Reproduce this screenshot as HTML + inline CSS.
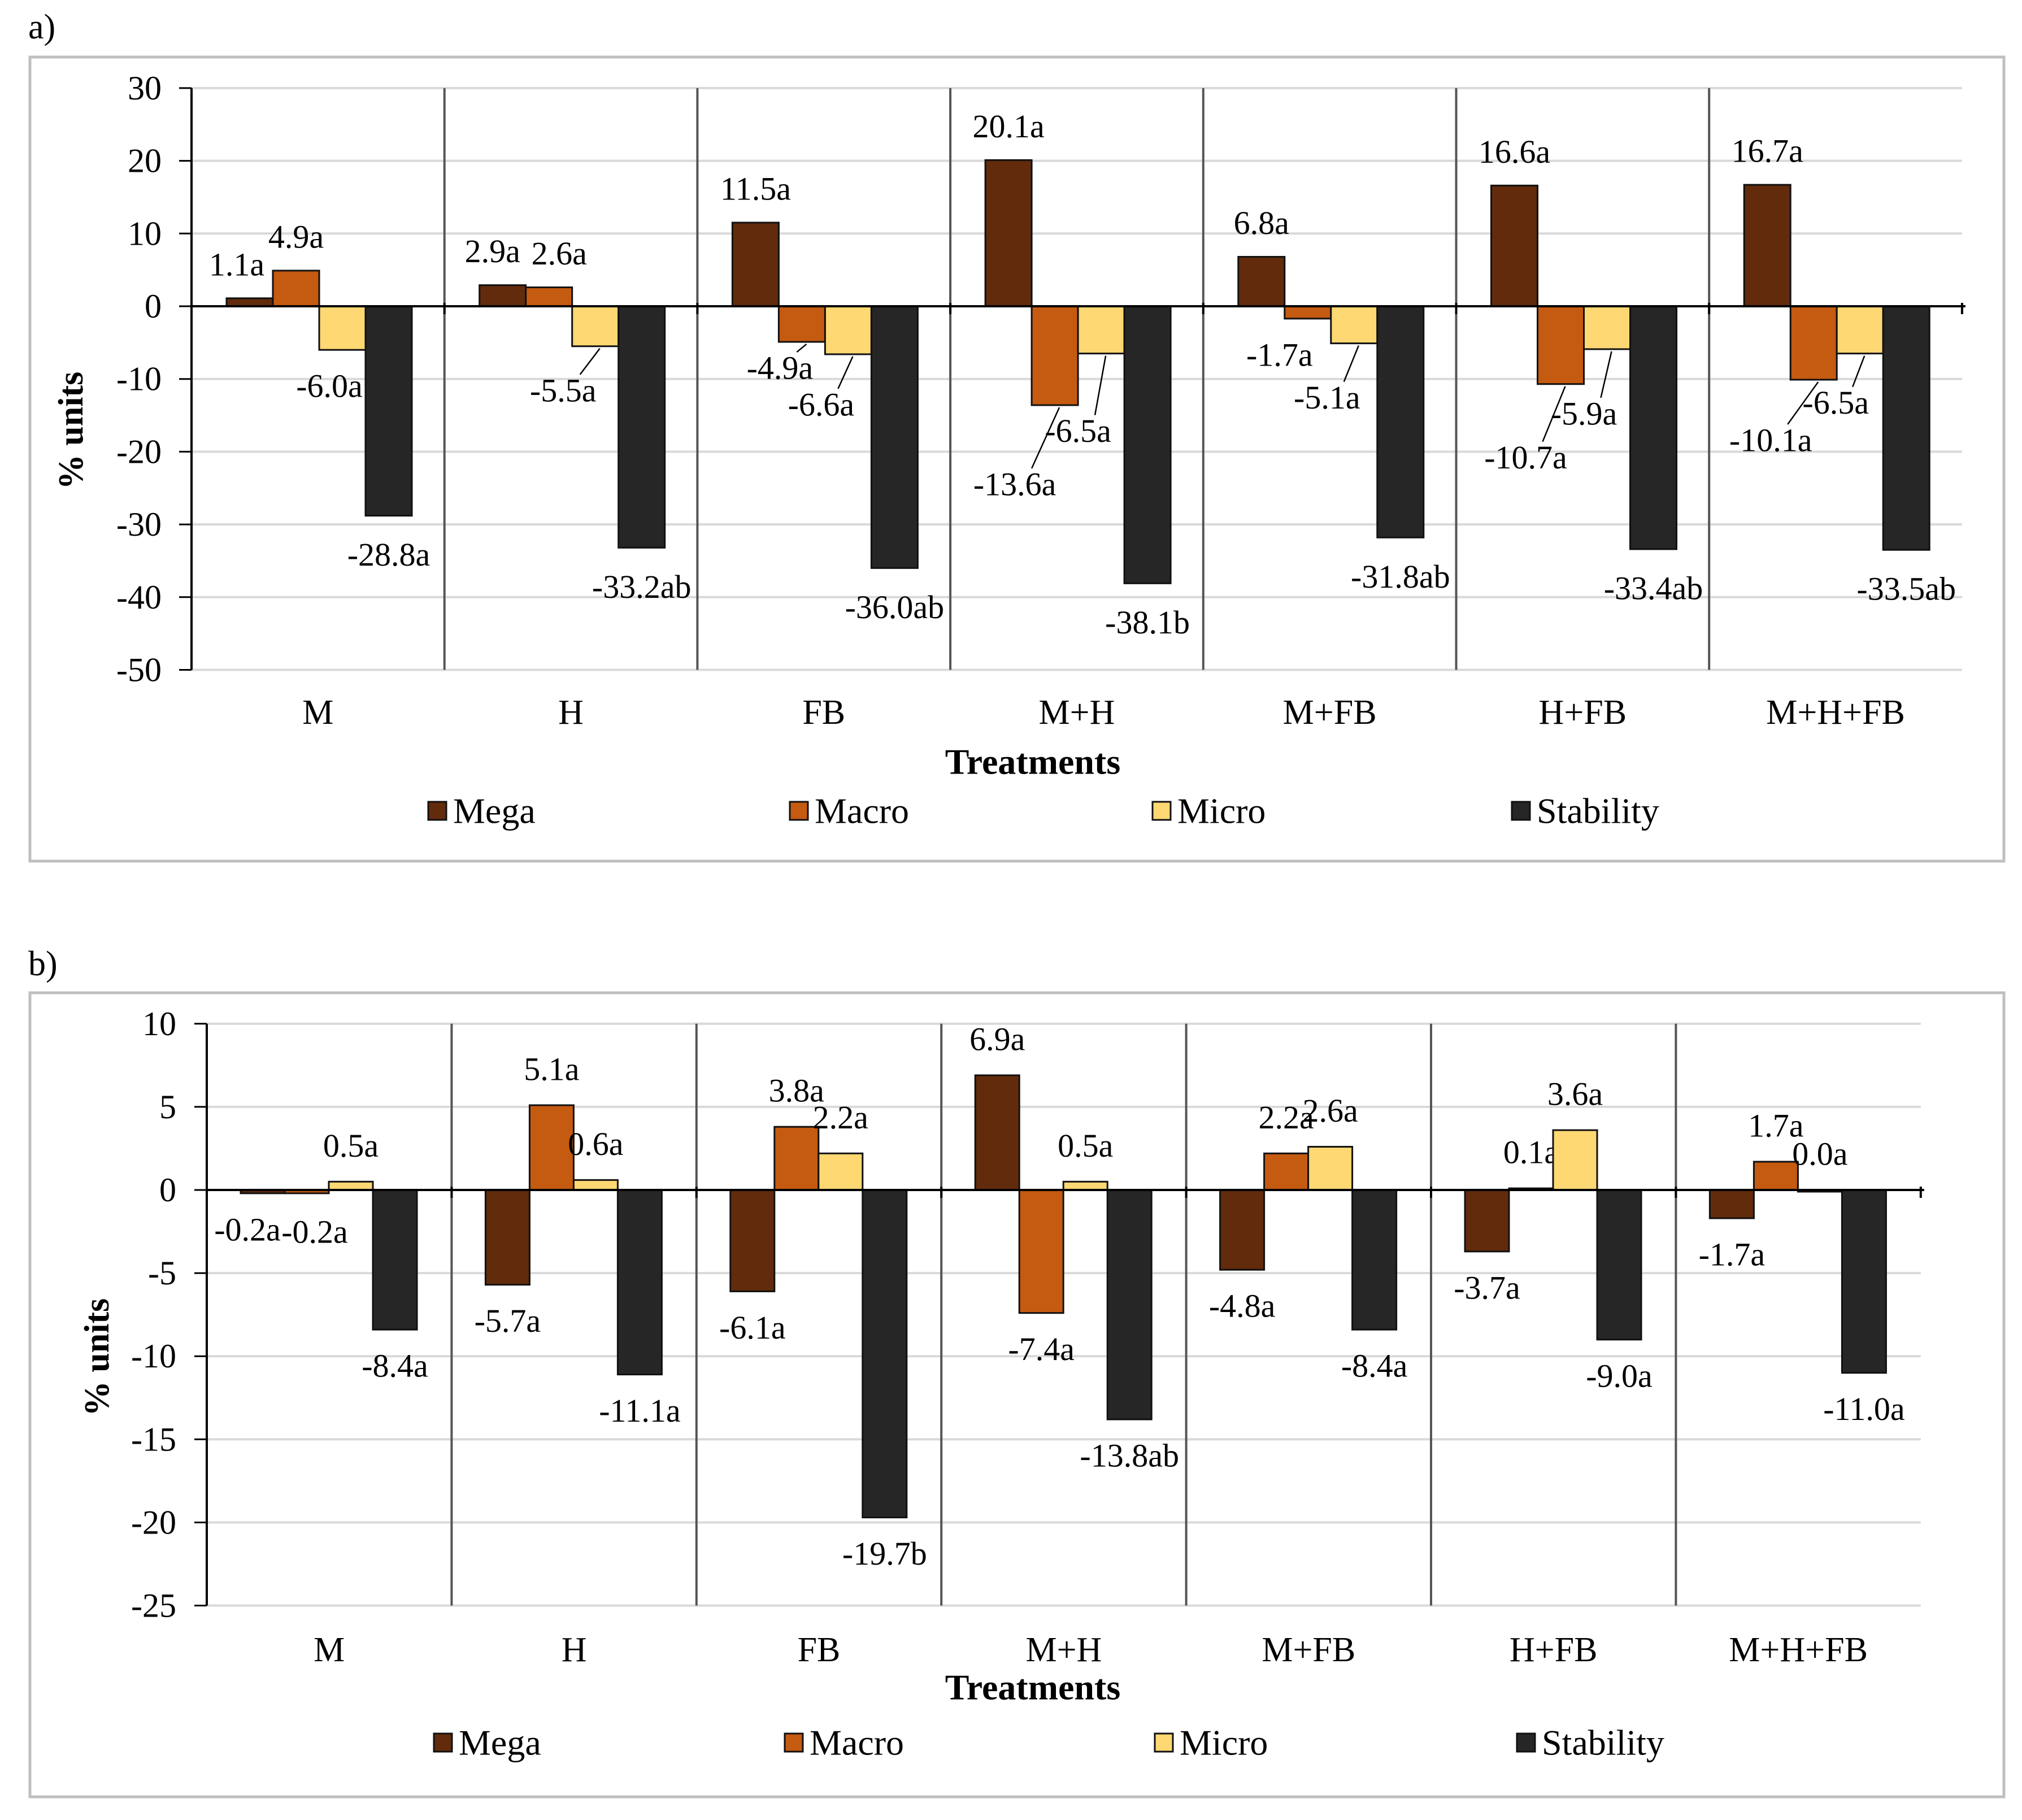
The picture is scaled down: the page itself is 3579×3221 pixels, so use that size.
<!DOCTYPE html>
<html><head><meta charset="utf-8"><style>
html,body{margin:0;padding:0;background:#fff}
svg{display:block}
text{font-family:"Liberation Serif",serif;fill:#000}
</style></head><body>
<svg id="fig" xmlns="http://www.w3.org/2000/svg" width="3579" height="3221" viewBox="0 0 3579 3221">
<text x="50" y="48" font-size="62" dominant-baseline="central">a)</text>
<text x="50" y="1706" font-size="62" dominant-baseline="central">b)</text>
<rect x="53" y="101" width="3494" height="1423" fill="none" stroke="#bfbfbf" stroke-width="5"/>
<rect x="53" y="1757" width="3494" height="1423" fill="none" stroke="#bfbfbf" stroke-width="5"/>
<g id="chartA"></g>
<g id="chartB"></g>
</svg>
<script>
const categories = ["M","H","FB","M+H","M+FB","H+FB","M+H+FB"];
const seriesNames = ["Mega","Macro","Micro","Stability"];
const aMega = [1.1, 2.9, 11.5, 20.1, 6.8, 16.6, 16.7];
const aMacro = [4.9, 2.6, -4.9, -13.6, -1.7, -10.7, -10.1];
const aMicro = [-6.0, -5.5, -6.6, -6.5, -5.1, -5.9, -6.5];
const aStability = [-28.8, -33.2, -36.0, -38.1, -31.8, -33.4, -33.5];
const aStabLetters = ["a","ab","ab","b","ab","ab","ab"];
const bMega = [-0.2, -5.7, -6.1, 6.9, -4.8, -3.7, -1.7];
const bMacro = [-0.2, 5.1, 3.8, -7.4, 2.2, 0.1, 1.7];
const bMicro = [0.5, 0.6, 2.2, 0.5, 2.6, 3.6, 0.0];
const bStability = [-8.4, -11.1, -19.7, -13.8, -8.4, -9.0, -11.0];
const bStabLetters = ["a","a","b","ab","a","a","a"];
const aTicks = [30, 20, 10, 0, -10, -20, -30, -40, -50];
const bTicks = [10, 5, 0, -5, -10, -15, -20, -25];

const colors = ["#622b0c","#c55a11","#fdd873","#262626"];
const NS = "http://www.w3.org/2000/svg";
function mk(parent, tag, attrs, txt){
  const e = document.createElementNS(NS, tag);
  for (const k in attrs) e.setAttribute(k, attrs[k]);
  if (txt !== undefined) e.textContent = txt;
  parent.appendChild(e); return e;
}
const aNudge = {"0-0":[-23,0,0],"0-2":[-23,0,0],"1-0":[-18,0,0],"1-1":[18,0,0],"1-2":[-57,14,1],
 "2-1":[-39,-18,1],"2-2":[-48,25,1],"3-1":[-71,76,1],"3-2":[-41,73,1],"4-1":[-50,0,0],"4-2":[-48,32,1],
 "5-1":[-62,66,1],"5-2":[-41,50,1],"6-1":[-76,43,1],"6-2":[-43,23,1]};
const bNudge = {"0-0":[-27,0,0],"0-1":[14,4,0]};

function drawChart(g, L){
  const y = v => L.zeroY - v * L.pxPerUnit;
  const yTop = y(L.ticks[0]), yBot = y(L.ticks[L.ticks.length-1]);
  const right = L.axisX + L.catW * categories.length;
  L.ticks.forEach(t => {
    if (t !== 0) { const gl = mk(g,"line",{x1:L.axisX,x2:right,y1:y(t),y2:y(t),stroke:"#d9d9d9","stroke-width":4});
        }
    const tk = mk(g,"line",{x1:L.axisX-22,x2:L.axisX,y1:y(t),y2:y(t),stroke:"#000","stroke-width":3});
     
    const tl = mk(g,"text",{x:L.tickRight,y:y(t),"font-size":60,"text-anchor":"end","dominant-baseline":"central"}, String(t));
     
  });
  for (let i=1;i<categories.length;i++){
    const sx = L.axisX + i*L.catW;
    const s = mk(g,"line",{x1:sx,x2:sx,y1:yTop,y2:yBot,stroke:"#555","stroke-width":4});
     
  }
  categories.forEach((c,i) => {
    const x0 = L.axisX + i*L.catW;
    L.series.forEach((arr,s) => {
      const v = arr[i];
      const bx = x0 + L.barOff + s*L.barW;
      const y1 = Math.min(y(v), y(0)), h = Math.max(Math.abs(y(v)-y(0)), 3);
      const r = mk(g,"rect",{x:bx,y:y1,width:L.barW,height:h,fill:colors[s],stroke:"#111","stroke-width":3});
      
      
      const cx = bx + L.barW/2;
      let lx = cx, ly = v >= 0 ? y(v) - L.posOff : y(v) + (s===3 ? L.stabOff : L.negOff);
      const n = L.nudge && L.nudge[i+"-"+s];
      if (n){ lx += n[0]; ly += n[1]; }
      const letter = s===3 ? L.stabLetters[i] : "a";
      const t = mk(g,"text",{x:lx,y:ly,"font-size":58,"text-anchor":"middle","dominant-baseline":"central"}, v.toFixed(1)+letter);
       
      if (n && n[2]){
        const ln = mk(g,"line",{x1:lx+30,y1:ly-28,x2:cx+8,y2:y(v)+4,stroke:"#000","stroke-width":2.5});
         
      }
    });
    const cl = mk(g,"text",{x:x0+L.catW/2,y:L.catY,"font-size":62,"text-anchor":"middle","dominant-baseline":"central"}, c);
     
  });
  const ya = mk(g,"line",{x1:L.axisX,x2:L.axisX,y1:yTop,y2:yBot,stroke:"#000","stroke-width":4});
   
  const za = mk(g,"line",{x1:L.axisX,x2:right+6,y1:y(0),y2:y(0),stroke:"#000","stroke-width":4});
   
  for (let i=0;i<=categories.length;i++){
    const tx = L.axisX + i*L.catW;
    const zt = mk(g,"line",{x1:tx,x2:tx,y1:y(0)-6,y2:y(0)+14,stroke:"#000","stroke-width":4});
     
  }
  const xt = mk(g,"text",{x:1828,y:L.titleY,"font-size":64,"font-weight":"bold","text-anchor":"middle","dominant-baseline":"central"},"Treatments");
   
  const yt = mk(g,"text",{x:L.yTitleX,y:L.yTitleY,"font-size":62,"font-weight":"bold","text-anchor":"middle","dominant-baseline":"central",transform:`rotate(-90 ${L.yTitleX} ${L.yTitleY})`},"% units");
   
  seriesNames.forEach((nm,s) => {
    const sq = mk(g,"rect",{x:L.legX[s],y:L.legY-16,width:32,height:32,fill:colors[s],stroke:"#111","stroke-width":3});
     
    const lt = mk(g,"text",{x:L.legX[s]+44,y:L.legY,"font-size":64,"dominant-baseline":"central"},nm);
     
  });
}
drawChart(document.getElementById('chartA'), {
  series:[aMega,aMacro,aMicro,aStability], stabLetters:aStabLetters, ticks:aTicks,
  axisX:339, catW:447.7, zeroY:542, pxPerUnit:12.87, barOff:62, barW:82, tickRight:286,
  posOff:60, negOff:64, stabOff:69, nudge:aNudge, catY:1261, titleY:1348,
  yTitleX:126, yTitleY:762, legY:1435, legX:[758,1398,2040,2676]
});
drawChart(document.getElementById('chartB'), {
  series:[bMega,bMacro,bMicro,bStability], stabLetters:bStabLetters, ticks:bTicks,
  axisX:366, catW:433.4, zeroY:2106, pxPerUnit:29.42, barOff:60, barW:78, tickRight:312,
  posOff:64, negOff:64, stabOff:64, nudge:bNudge, catY:2920, titleY:2986,
  yTitleX:172, yTitleY:2402, legY:3084, legX:[768,1389,2044,2685]
});
</script>
</body></html>
